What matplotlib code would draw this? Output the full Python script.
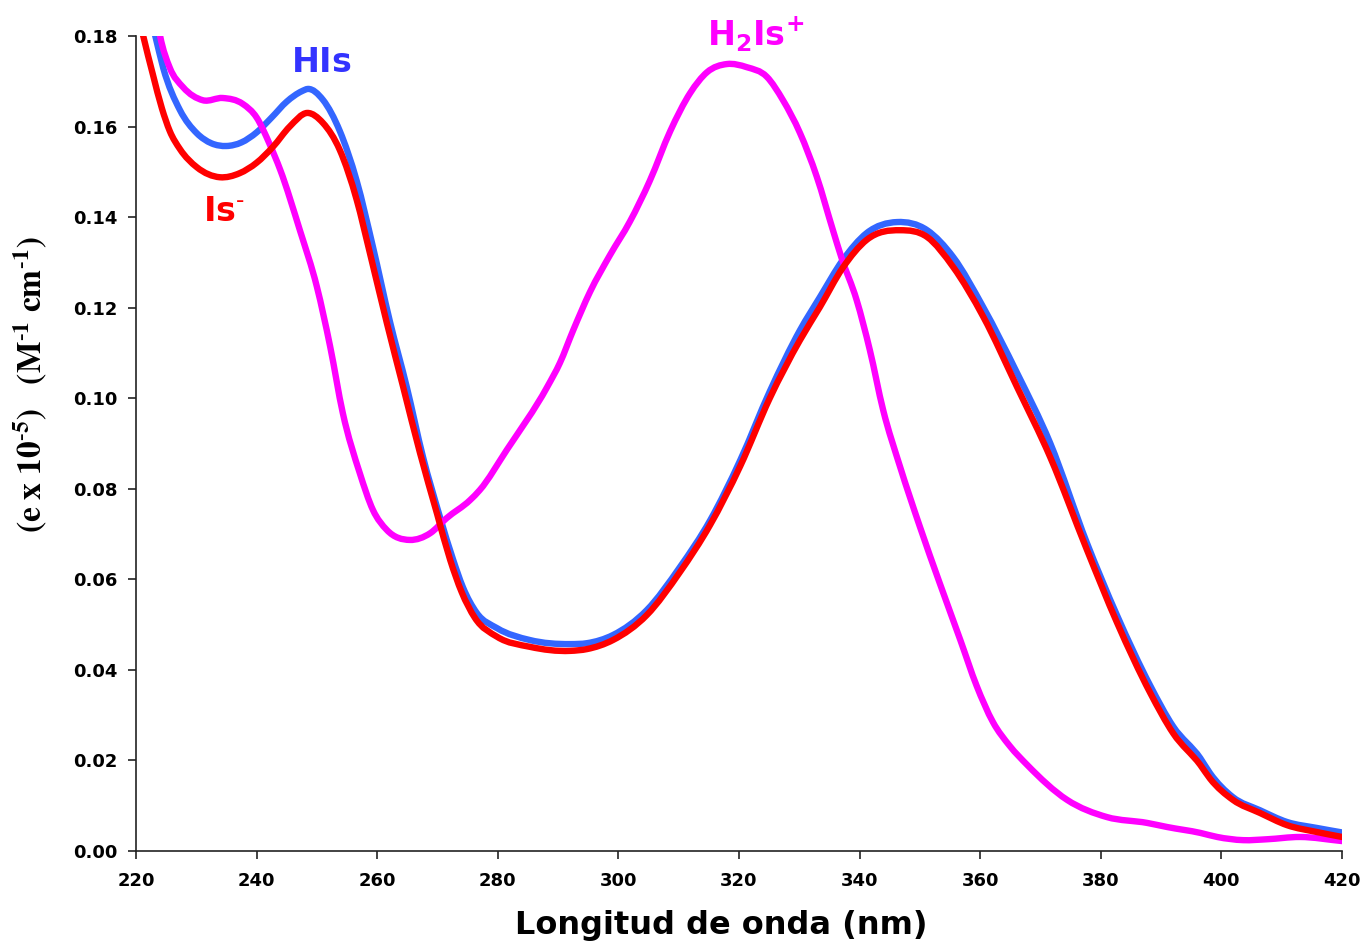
import numpy as np
import matplotlib
matplotlib.use("Agg")
import matplotlib.pyplot as plt
from matplotlib.path import Path
from matplotlib.patches import PathPatch

# espectros de absorcion de las tres especies
x_his = [222, 223.2, 224.5, 227.3, 230.1, 232.5, 235, 237.5, 240, 242.5, 245, 247.5, 248.5,
         251, 253.8, 256.6, 259.3, 262.1, 264.9, 267.6, 270.4, 272.6, 274.2, 276.5, 279.9,
         285.3, 292, 294.8, 299.1, 304.7, 310.2, 315.2, 320.2, 325.1, 330.1, 333.4, 337.2,
         341.2, 346.2, 351.2, 355.5, 360.5, 366.1, 371.6, 377.7, 382.7, 388.2, 392, 396.5,
         398.1, 401.9, 406.4, 410.9, 415.8, 420]
y_his = [0.186, 0.180, 0.173, 0.1636, 0.1585, 0.1563, 0.1557, 0.1565, 0.1587, 0.162, 0.1655,
         0.1678, 0.1683, 0.1659, 0.159, 0.148, 0.1334, 0.117, 0.1025, 0.087, 0.0738, 0.0643,
         0.0583, 0.0526, 0.0492, 0.0466, 0.0457, 0.0459, 0.0477, 0.0532, 0.0627, 0.073,
         0.0863, 0.1015, 0.115, 0.1223, 0.1305, 0.1365, 0.1389, 0.1371, 0.1312, 0.1201,
         0.1056, 0.0901, 0.068, 0.052, 0.0365, 0.0275, 0.0205, 0.0172, 0.0119, 0.009,
         0.0064, 0.0051, 0.0041]

x_is = [220.5, 221.2, 222.8, 224.3, 225.6, 227.3, 230.1, 233.9, 237.2, 240, 242.7, 245.5,
        248.4, 251, 253.8, 256.6, 258.8, 261.6, 264.3, 267.1, 269.9, 272.1, 274, 276.2,
        279.9, 285.3, 292, 294.8, 299.1, 304.7, 310.2, 315.2, 320.2, 325.1, 330.1, 333.4,
        337.2, 341.2, 346.7, 351.2, 355.5, 360.5, 366.1, 371.6, 377.7, 382.7, 388.2, 392,
        396.5, 398.1, 401.9, 406.4, 410.9, 415.8, 420]
y_is = [0.184, 0.180, 0.1715, 0.164, 0.159, 0.155, 0.151, 0.1488, 0.1497, 0.152, 0.1555,
        0.160, 0.163, 0.1608, 0.1548, 0.1438, 0.132, 0.1166, 0.1025, 0.0879, 0.0746, 0.0643,
        0.0572, 0.0515, 0.0473, 0.0451, 0.0442, 0.0446, 0.0466, 0.0521, 0.0616, 0.072,
        0.085, 0.100, 0.1128, 0.1201, 0.1288, 0.135, 0.1371, 0.1356, 0.129, 0.118, 0.1025,
        0.087, 0.0665, 0.0504, 0.0349, 0.026, 0.019, 0.016, 0.0113, 0.0084, 0.0057, 0.0042,
        0.0031]

x_h2is = [222.5, 224, 225.6, 227.8, 231.1, 234.4, 237.7, 240, 242.2, 243.9, 247.2, 250, 252.2,
          254.3, 257.1, 259.3, 261.6, 265.4, 268.8, 271.5, 275.4, 277, 281.5, 288.2, 290.3,
          292.5, 295.3, 298.6, 301.9, 305.2, 308.6, 311.9, 314.7, 318, 321.3, 324.6,
          327.3, 330.1, 332.9, 335.6, 337, 339.5, 341.7, 343.9, 346.7, 350, 353.3, 356.7,
          359.4, 362.1, 364.9, 367.8, 374.4, 381, 387.7, 391, 396.5, 399.3, 403.6, 407.6,
          413, 420]
y_h2is = [0.193, 0.180, 0.173, 0.1687, 0.1658, 0.1663, 0.165, 0.162, 0.156, 0.1505, 0.137,
          0.1246, 0.1114, 0.0967, 0.0835, 0.0753, 0.0709, 0.0687, 0.0702, 0.0735, 0.0775,
          0.0797, 0.0886, 0.1025, 0.1078, 0.115, 0.1235, 0.1316, 0.139, 0.148, 0.159,
          0.1674, 0.172, 0.1738, 0.1731, 0.171, 0.1658, 0.1586, 0.1489, 0.137, 0.131,
          0.1217, 0.1106, 0.0974, 0.0849, 0.0716, 0.0591, 0.0466, 0.0365, 0.0285, 0.0232,
          0.019, 0.0113, 0.0075, 0.0062, 0.0053, 0.004, 0.0031, 0.0024, 0.0026, 0.0031, 0.0022]

xticks = np.arange(220, 421, 20)
yticks = np.arange(0, 0.181, 0.02)


def smooth_line(ax, x, y, color, lw):
    # curva suave (hermite cubica en forma bezier) que pasa por todos los puntos
    x = np.asarray(x, float)
    y = np.asarray(y, float)
    h = np.diff(x)
    d = np.diff(y) / h
    m = np.empty_like(y)
    m[0], m[-1] = d[0], d[-1]
    m[1:-1] = (h[:-1] * d[1:] + h[1:] * d[:-1]) / (h[:-1] + h[1:])
    verts = [(x[0], y[0])]
    codes = [Path.MOVETO]
    for i in range(len(x) - 1):
        t = h[i] / 3.0
        verts += [(x[i] + t, y[i] + m[i] * t),
                  (x[i + 1] - t, y[i + 1] - m[i + 1] * t),
                  (x[i + 1], y[i + 1])]
        codes += [Path.CURVE4] * 3
    patch = PathPatch(Path(verts, codes), fill=False, edgecolor=color, lw=lw,
                      capstyle='round', joinstyle='round')
    ax.add_patch(patch)


fig = plt.figure(figsize=(13.64, 9.44), dpi=100)
ax = fig.add_axes([0.0997, 0.0985, 0.8842, 0.8634])

lw = 4.6
smooth_line(ax, x_his, y_his, '#3366FF', lw)
smooth_line(ax, x_h2is, y_h2is, '#FF00FF', lw)
smooth_line(ax, x_is, y_is, '#FF0000', lw)

ax.set_xlim(220, 420)
ax.set_ylim(0, 0.18)
ax.set_xticks(xticks)
ax.set_yticks(yticks)
ax.set_yticklabels(['%.2f' % v for v in yticks])
for lab in ax.get_xticklabels() + ax.get_yticklabels():
    lab.set_fontweight('bold')
    lab.set_fontsize(13)
ax.tick_params(axis='both', direction='out', length=6, width=1.2, color='#222222')
ax.tick_params(axis='y', pad=7)
ax.tick_params(axis='x', pad=9)

for s in ['top', 'right']:
    ax.spines[s].set_visible(False)
for s in ['left', 'bottom']:
    ax.spines[s].set_linewidth(1.2)
    ax.spines[s].set_color('#222222')

ax.set_xlabel('Longitud de onda (nm)', fontsize=23, fontweight='bold', va='center')
ax.xaxis.set_label_coords(0.485, -0.091)
ax.set_ylabel(r'$\mathbf{(e\ x\ 10^{\text{-}5})\ \ \ (M^{\text{-}1}\ cm^{\text{-}1})}$',
              fontsize=24, math_fontfamily='stix', va='center')
ax.yaxis.set_label_coords(-0.087, 0.572)

# etiquetas de cada especie
ax.text(250.8, 0.1742, r'$\mathbf{HIs}$', color='#3333FF', fontsize=24,
        ha='center', va='center', math_fontfamily='dejavusans')
ax.text(234.6, 0.1412, r'$\mathbf{Is^{\text{-}}}$', color='#FF0000', fontsize=24,
        ha='center', va='center', math_fontfamily='dejavusans')
ax.text(322.7, 0.1803, r'$\mathbf{H_2Is^{+}}$', color='#FF00FF', fontsize=24,
        ha='center', va='center', math_fontfamily='dejavusans')

fig.savefig('out.png', dpi=100)
